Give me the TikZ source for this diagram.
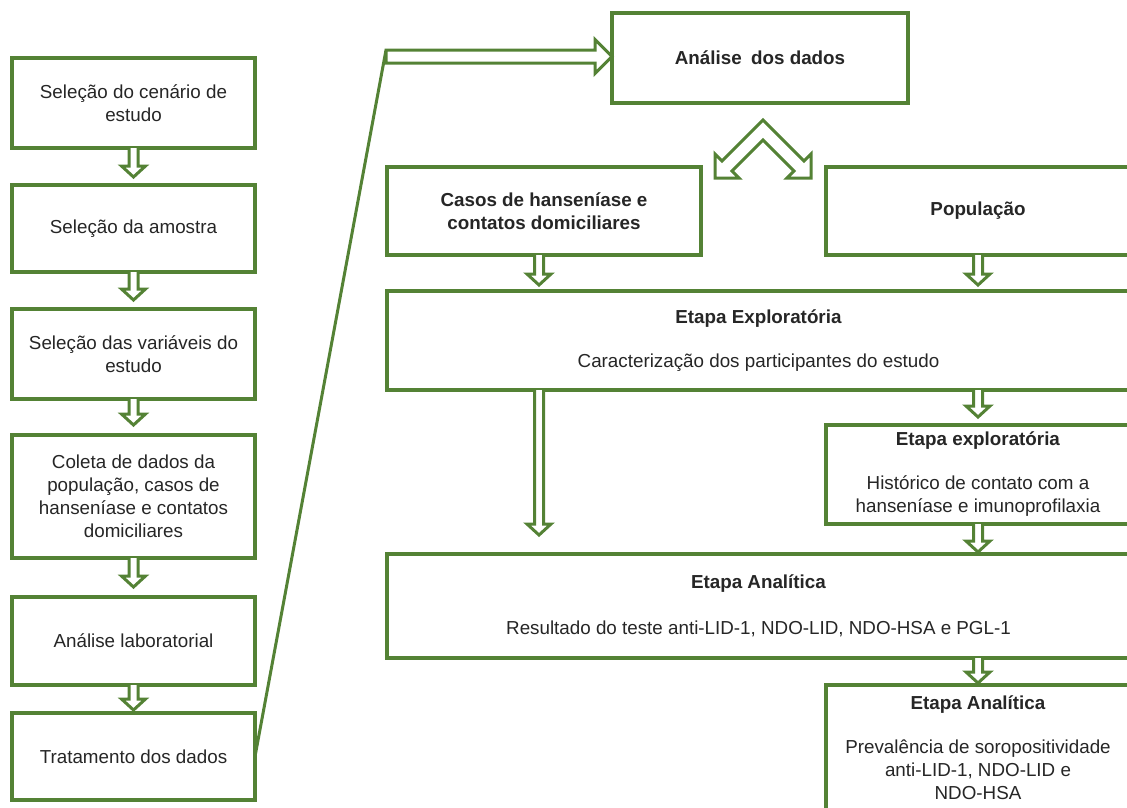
\documentclass[tikz,border=0pt]{standalone}
\usepackage{fontspec}
\setmainfont{Liberation Sans}
\usetikzlibrary{calc}
\definecolor{gr}{RGB}{84,130,53}
\tikzset{
  box/.style={draw=gr, line width=3.5pt, fill=white, align=center, inner sep=0pt, outer sep=0pt,
    font=\fontsize{18.8}{23}\selectfont, text=black!85},
  lbox/.style={box, minimum width=243pt},
  garrow/.style={draw=gr, line width=3pt, line join=miter, fill=white},
}
\newcommand{\dnarrow}[2]{%
  \draw[garrow] let \p1=#1, \p2=#2 in
    (\x1-4.5pt,\y1) -- (\x1-4.5pt,\y2+11pt) -- (\x1-12pt,\y2+11pt) -- (\x1,\y2)
    -- (\x1+12pt,\y2+11pt) -- (\x1+4.5pt,\y2+11pt) -- (\x1+4.5pt,\y1);}
\begin{document}
\begin{tikzpicture}[x=1pt,y=-1pt]
\useasboundingbox (0,0) rectangle (1127,807);
\clip (0,0) rectangle (1127,807);
% left column
\node[lbox, minimum height=90pt] (l1) at (133.5,103) {Seleção do cenário de\\estudo};
\node[lbox, minimum height=87pt] (l2) at (133.5,228.5) {Seleção da amostra};
\node[lbox, minimum height=90pt] (l3) at (133.5,354) {Seleção das variáveis do\\estudo};
\node[lbox, minimum height=123pt] (l4) at (133.5,496.5) {Coleta de dados da\\população, casos de\\hanseníase e contatos\\domiciliares};
\node[lbox, minimum height=88pt] (l5) at (133.5,641) {Análise laboratorial};
\node[lbox, minimum height=87pt] (l6) at (133.5,756.5) {Tratamento dos dados};
% right part
\node[box, minimum width=296pt, minimum height=90pt] (analise) at (760,58) {\textbf{Análise\enspace dos dados}};
\node[box, minimum width=314pt, minimum height=88pt] (casos) at (544,211) {\textbf{Casos de hanseníase e}\\\textbf{contatos domiciliares}};
\node[box, minimum width=304pt, minimum height=88pt] (pop) at (978,211) {\textbf{População}};
\node[box, minimum width=743pt, minimum height=99pt] (exp) at (758.5,340.5) {\textbf{Etapa Exploratória}\\[21pt]Caracterização dos participantes do estudo};
\node[box, minimum width=304pt, minimum height=99pt] (exp2) at (978,474.5) {\textbf{Etapa exploratória}\\[21pt]Histórico de contato com a\\hanseníase e imunoprofilaxia};
\node[box, minimum width=743pt, minimum height=104pt] (ana) at (758.5,606) {\textbf{Etapa Analítica}\\[23pt]Resultado do teste anti-LID-1, NDO-LID, NDO-HSA e PGL-1};
\node[box, minimum width=304pt, minimum height=126pt] (ana2) at (978,748) {\textbf{Etapa Analítica}\\[21pt]Prevalência de soropositividade\\anti-LID-1, NDO-LID e\\NDO-HSA};
% left column arrows
\dnarrow{(l1.south)}{($(l2.north)+(0,8pt)$)}
\dnarrow{(l2.south)}{($(l3.north)+(0,9pt)$)}
\dnarrow{(l3.south)}{($(l4.north)+(0,10pt)$)}
\dnarrow{(l4.south)}{($(l5.north)+(0,10pt)$)}
\dnarrow{(l5.south)}{($(l6.north)+(0,3pt)$)}
% right arrows
\coordinate (ca) at ($(casos.south)+(-5pt,0)$);
\dnarrow{(ca)}{($(exp.north)+(0,6pt)$)}
\dnarrow{(pop.south)}{($(exp.north)+(0,6pt)$)}
\dnarrow{(ca |- exp.south)}{($(ana.north)+(0,19pt)$)}
\dnarrow{(pop.south |- exp.south)}{($(exp2.north)+(0,8pt)$)}
\dnarrow{(exp2.south)}{($(ana.north)+(0,2pt)$)}
\dnarrow{(pop.south |- ana.south)}{($(ana2.north)+(0,2pt)$)}
% long connector to Análise dos dados
\coordinate (bend) at (386,56.5);
\draw[garrow, fill=none] let \p1=(bend), \p2=(analise.west) in
  (l6.east) -- (\x1,\y1+6.5pt) -- (\x2-17pt,\y1+6.5pt) -- (\x2-17pt,\y1+17pt) -- (\x2,\y1)
  -- (\x2-17pt,\y1-17pt) -- (\x2-17pt,\y1-6.5pt) -- (\x1,\y1-6.5pt) -- (\x1,\y1+6.5pt);
% double chevron arrow
\draw[garrow] (763,120) -- (804,161) -- (811,154) -- (811,178) -- (787,178) -- (794,171)
  -- (763,140) -- (732,171) -- (739,178) -- (715,178) -- (715,154) -- (722,161) -- cycle;
\end{tikzpicture}
\end{document}
